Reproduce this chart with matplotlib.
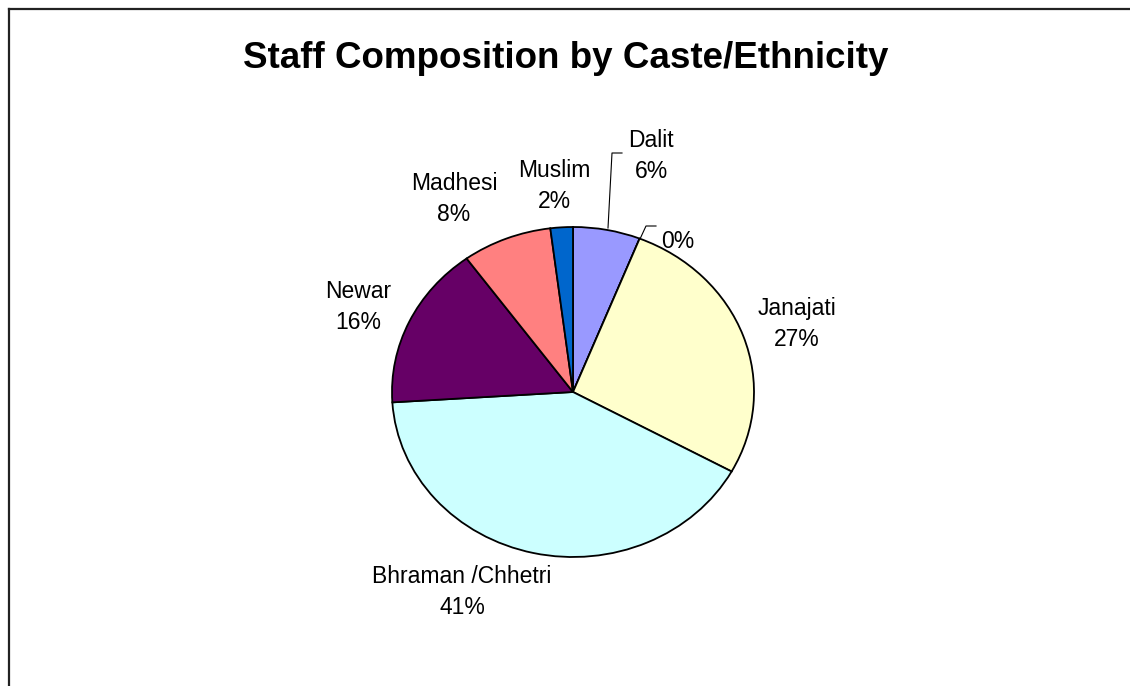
import matplotlib
matplotlib.use("Agg")
import matplotlib.pyplot as plt
from matplotlib.lines import Line2D

# ---- data ----
categories = ["Dalit", "", "Janajati", "Bhraman /Chhetri", "Newar", "Madhesi", "Muslim"]
shares = [6, 0, 27, 41, 16, 8, 2]
colors = ["#9999FF", "#993366", "#FFFFCC", "#CCFFFF", "#660066", "#FF8080", "#0066CC"]
title = "Staff Composition by Caste/Ethnicity"

# label centre positions in pixels (layout only)
label_px = [(651, 156), (678, 242), (797, 324), (462, 592), (358, 307), (454, 199), (554, 186)]

W, H = 1130, 686
fig = plt.figure(figsize=(W / 100, H / 100), dpi=100)
fig.patch.set_facecolor("white")

cx, cy, rx, ry = 573, 392, 181, 165
ax = fig.add_axes([(cx - rx) / W, 1 - (cy + ry) / H, 2 * rx / W, 2 * ry / H])

wedges, _ = ax.pie(shares, colors=colors, startangle=90, counterclock=False,
                   radius=1, frame=False,
                   wedgeprops=dict(edgecolor="black", linewidth=1.3))
ax.set_xlim(-1, 1)
ax.set_ylim(-1, 1)
ax.set_aspect("auto")
ax.axis("off")

def to_data(px, py):
    return (px - cx) / rx, (cy - py) / ry

total = sum(shares)
for cat, val, (px, py) in zip(categories, shares, label_px):
    pct = f"{round(100 * val / total):.0f}%"
    txt = f"{cat}\n{pct}" if cat else pct
    x, y = to_data(px, py)
    ax.text(x, y, txt, ha="center", va="center", fontsize=16.5,
            family="Liberation Sans", linespacing=1.45, clip_on=False)

# leader lines
leaders = [
    [(608, 228), (612, 153), (622, 153)],
    [(640, 239), (646, 226), (656, 226)],
]
for pts in leaders:
    xs, ys = zip(*[to_data(p, q) for p, q in pts])
    ax.plot(xs, ys, color="black", linewidth=0.8, clip_on=False)

fig.text(566 / W, 1 - 59 / H, title, ha="center", va="center",
         fontsize=26.5, fontweight="bold", family="Liberation Sans")

# outer frame
fig.add_artist(Line2D([8.5 / W, 8.5 / W], [0, 1 - 8.5 / H], transform=fig.transFigure,
                      color="#222222", linewidth=1.6))
fig.add_artist(Line2D([8.5 / W, 1], [1 - 8.5 / H, 1 - 8.5 / H], transform=fig.transFigure,
                      color="#222222", linewidth=1.6))

fig.savefig("out.png", dpi=100)
